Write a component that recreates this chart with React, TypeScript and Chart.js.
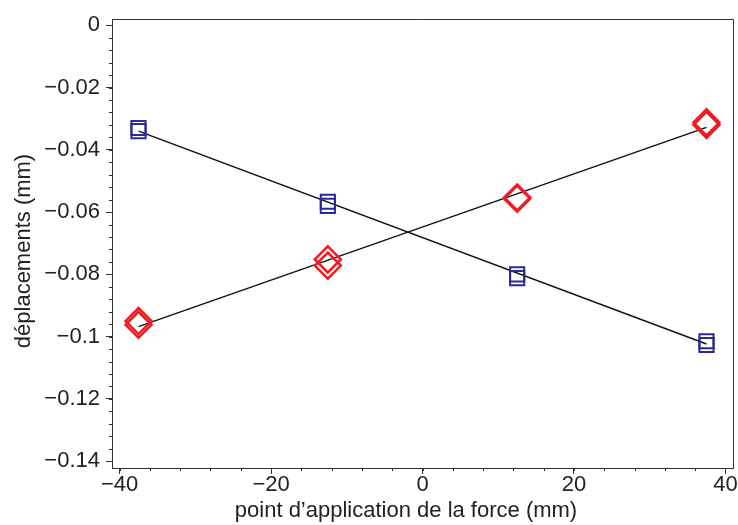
import React, { useEffect, useRef } from "react";
import { Chart, registerables } from "chart.js";

Chart.register(...registerables);

const positions = [-37.5, -12.5, 12.5, 37.5];
const blueRun1 = [-0.033, -0.0567, -0.08, -0.1015];
const blueRun2 = [-0.034, -0.058, -0.0812, -0.1027];
const redRun1 = [-0.095, -0.0752, -0.0553, -0.0312];
const redRun2 = [-0.0962, -0.0772, -0.0557, -0.032];
const fitX = [-37.5, 37.5];
const blueFit = [-0.034, -0.1024];
const redFit = [-0.0968, -0.0328];
const xTitle = "point d’application de la force (mm)";
const yTitle = "déplacements (mm)";

const FONT = "'Liberation Sans', Arial, Helvetica, sans-serif";
const BLUE = "rgb(42,42,148)";
const RED = "rgb(236,28,36)";

const fmt = (v: number) => {
  const r = Math.round(v * 1000) / 1000;
  if (r === 0) return "0";
  return String(r).replace("-", "\u2212");
};

const pts = (xs: number[], ys: number[]) => xs.map((x, i) => ({ x, y: ys[i] }));

const decor = {
  id: "decor",
  afterDraw(chart: any) {
    const { ctx, chartArea: a, scales } = chart;
    ctx.save();
    ctx.strokeStyle = "#333";
    ctx.lineWidth = 1;
    ctx.beginPath();
    ctx.moveTo(a.left, a.top + 0.5);
    ctx.lineTo(a.right + 0.5, a.top + 0.5);
    ctx.lineTo(a.right + 0.5, a.bottom);
    ctx.stroke();
    // minor ticks
    ctx.beginPath();
    for (let v = -40; v <= 40.001; v += 4) {
      const px = Math.round(scales.x.getPixelForValue(v)) + 0.5;
      ctx.moveTo(px, a.bottom);
      ctx.lineTo(px, a.bottom + 3);
    }
    for (let k = 0; k <= 35; k++) {
      const v = -k * 0.004;
      const py = Math.round(scales.y.getPixelForValue(v)) + 0.5;
      ctx.moveTo(a.left, py);
      ctx.lineTo(a.left - 3, py);
    }
    ctx.stroke();
    // titles
    ctx.fillStyle = "#222";
    ctx.font = `22px ${FONT}`;
    ctx.textAlign = "center";
    ctx.textBaseline = "middle";
    ctx.fillText(xTitle, 406, 511);
    ctx.translate(24, 251);
    ctx.rotate(-Math.PI / 2);
    ctx.fillText(yTitle, 0, 0);
    ctx.restore();
  },
};

export default function App() {
  const ref = useRef<HTMLCanvasElement>(null);
  useEffect(() => {
    if (!ref.current) return;
    const markerBase = { type: "scatter" as const, showLine: false, backgroundColor: "transparent" };
    const chart = new Chart(ref.current, {
      type: "scatter",
      data: {
        datasets: [
          { ...markerBase, label: "b1", data: pts(positions, blueRun1), pointStyle: "rect", pointRadius: 10, borderWidth: 2, borderColor: BLUE, pointBorderColor: BLUE },
          { ...markerBase, label: "b2", data: pts(positions, blueRun2), pointStyle: "rect", pointRadius: 10, borderWidth: 2, borderColor: BLUE, pointBorderColor: BLUE },
          { ...markerBase, label: "r1", data: pts(positions, redRun1), pointStyle: "rectRot", pointRadius: 13, borderWidth: 2.5, borderColor: RED, pointBorderColor: RED },
          { ...markerBase, label: "r2", data: pts(positions, redRun2), pointStyle: "rectRot", pointRadius: 13, borderWidth: 2.5, borderColor: RED, pointBorderColor: RED },
          { type: "line" as const, label: "fb", data: pts(fitX, blueFit), borderColor: "#111", borderWidth: 1.5, pointRadius: 0, showLine: true },
          { type: "line" as const, label: "fr", data: pts(fitX, redFit), borderColor: "#111", borderWidth: 1.5, pointRadius: 0, showLine: true },
        ] as any,
      },
      options: {
        animation: false,
        responsive: true,
        maintainAspectRatio: false,
        layout: { autoPadding: false, padding: { top: 19, right: 5, left: 0, bottom: 0 } },
        plugins: { legend: { display: false }, tooltip: { enabled: false } },
        scales: {
          x: {
            type: "linear",
            min: -41,
            max: 41,
            afterFit: (s: any) => { s.height = 57; s.paddingLeft = 0; s.paddingRight = 0; },
            grid: { drawOnChartArea: false, tickLength: 6, color: "#333" },
            border: { color: "#333", width: 1 },
            ticks: { stepSize: 20, includeBounds: false, autoSkip: false, maxRotation: 0, padding: -2, color: "#222", font: { family: FONT, size: 22 }, callback: (v: any) => fmt(Number(v)) },
          },
          y: {
            type: "linear",
            min: -0.1422,
            max: 0.002,
            afterFit: (s: any) => { s.width = 112; s.paddingTop = 0; s.paddingBottom = 0; },
            grid: { drawOnChartArea: false, tickLength: 6, color: "#333" },
            border: { color: "#333", width: 1 },
            ticks: { stepSize: 0.02, includeBounds: false, autoSkip: false, padding: 6, color: "#222", font: { family: FONT, size: 22 }, callback: (v: any) => fmt(Number(v)) },
          },
        },
      },
      plugins: [decor],
    });
    return () => chart.destroy();
  }, []);
  return (
    <div style={{ position: "fixed", left: 0, top: 0, width: 738, height: 525, background: "#fff" }}>
      <canvas ref={ref} />
    </div>
  );
}
